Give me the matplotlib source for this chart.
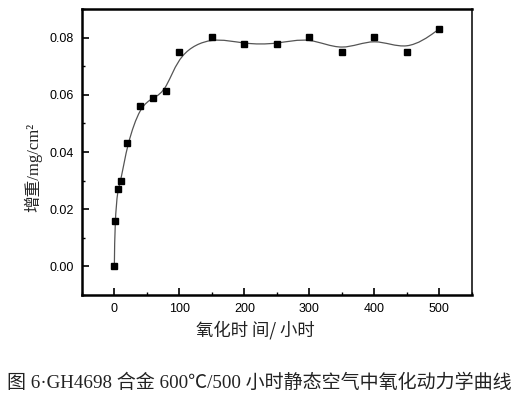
import numpy as np
import matplotlib
matplotlib.use("Agg")
import matplotlib.pyplot as plt
from matplotlib.path import Path
from matplotlib.patches import PathPatch

hours = [0, 1, 5, 10, 20, 40, 60, 80, 100, 150, 200, 250, 300, 350, 400, 450, 500]
gain = [0.000, 0.016, 0.027, 0.0297, 0.043, 0.0562, 0.0589, 0.0615, 0.0749, 0.0804,
        0.0777, 0.0777, 0.0804, 0.0749, 0.0804, 0.0749, 0.0831]
xticks = [0, 100, 200, 300, 400, 500]
yticks = [0.00, 0.02, 0.04, 0.06, 0.08]
xlabel = "氧化时 间/ 小时"
ylabel = "增重/mg/cm²"
caption = "图 6·GH4698 合金 600℃/500 小时静态空气中氧化动力学曲线"

serif_cjk = ['Liberation Serif', 'Noto Sans CJK SC']

fig = plt.figure(figsize=(5.18, 3.97), dpi=100)
ax = fig.add_axes([0.158, 0.257, 0.753, 0.720])

# B-spline (clamped) using the data points as control points, drawn as Bezier path
P = np.column_stack([hours, gain])
P = np.vstack([P[0], P[0], P, P[-1], P[-1]])
verts = []
codes = []
for i in range(1, len(P) - 2):
    b0 = (P[i - 1] + 4 * P[i] + P[i + 1]) / 6.0
    b1 = (2 * P[i] + P[i + 1]) / 3.0
    b2 = (P[i] + 2 * P[i + 1]) / 3.0
    b3 = (P[i] + 4 * P[i + 1] + P[i + 2]) / 6.0
    if not verts:
        verts.append(b0)
        codes.append(Path.MOVETO)
    verts += [b1, b2, b3]
    codes += [Path.CURVE4] * 3
ax.add_patch(PathPatch(Path(verts, codes), facecolor='none', edgecolor='#555555', lw=0.9))
ax.plot(hours, gain, linestyle='none', marker='s', ms=4.6, color='black')

ax.set_xlim(-50, 550)
ax.set_ylim(-0.01, 0.09)
ax.set_xticks(xticks)
ax.set_yticks(yticks)
ax.set_xticks(np.arange(-50, 551, 50), minor=True)
ax.set_yticks(np.arange(-0.01, 0.091, 0.01), minor=True)
ax.set_yticklabels(["%.2f" % v for v in yticks])
ax.tick_params(which='major', direction='in', length=5, width=1.2, labelsize=9, pad=6)
ax.tick_params(which='minor', direction='in', length=2.5, width=1.0)
for lab in ax.get_xticklabels() + ax.get_yticklabels():
    lab.set_fontfamily('Liberation Sans')
for s in ['left', 'bottom', 'top']:
    ax.spines[s].set_linewidth(1.8)
ax.spines['right'].set_linewidth(1.1)

fig.text(255 / 518, 1 - 330 / 397, xlabel, ha='center', va='center',
         family='Noto Sans CJK SC', fontsize=12.5, color='#222222')
fig.text(33 / 518, 1 - 167 / 397, ylabel, ha='center', va='center', rotation=90,
         family=serif_cjk, fontsize=12, color='#222222')

fig.text(0.5, 1 - 383 / 397, caption, ha='center', va='center', fontsize=13.7,
         family=serif_cjk, color='#222222')

fig.savefig("out.png", dpi=100)
